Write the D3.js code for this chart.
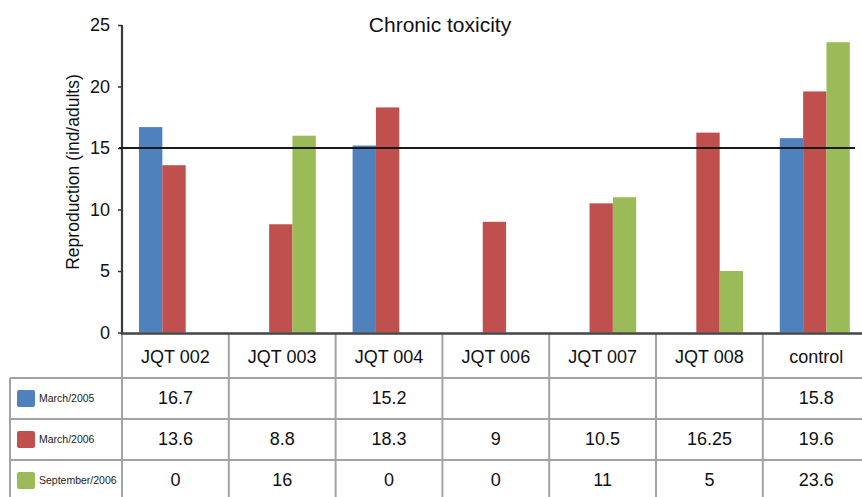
<!DOCTYPE html>
<html>
<head>
<meta charset="utf-8">
<script src="https://cdn.jsdelivr.net/npm/d3@7"></script>
<style>
  html, body { margin: 0; padding: 0; background: #fff; }
  svg { display: block; font-family: "Liberation Sans", Arial, Helvetica, sans-serif; }
</style>
</head>
<body>
<svg id="chart" width="862" height="497"></svg>
<script>
// ---- data ----
const categories = ["JQT 002", "JQT 003", "JQT 004", "JQT 006", "JQT 007", "JQT 008", "control"];
const seriesNames = ["March/2005", "March/2006", "September/2006"];
const march2005 = [16.7, null, 15.2, null, null, null, 15.8];
const march2006 = [13.6, 8.8, 18.3, 9, 10.5, 16.25, 19.6];
const september2006 = [0, 16, 0, 0, 11, 5, 23.6];
const seriesColors = ["#4F81BD", "#C0504D", "#9BBB59"];
const yTicks = [0, 5, 10, 15, 20, 25];
const thresholdValue = 15;
const chartTitle = "Chronic toxicity";
const yLabel = "Reproduction (ind/adults)";

const seriesValues = [march2005, march2006, september2006];

const svg = d3.select("#chart");

const x0 = 122, step = 106.8;
const x = d3.scaleBand().domain(categories).range([x0, x0 + step * categories.length]).padding(0);
const xs = d3.scaleBand().domain(seriesNames).range([17, 17 + 70]).padding(0);
const y = d3.scaleLinear().domain([0, 25]).range([332.5, 25]);

// title
svg.append("text").attr("x", 440).attr("y", 32).attr("text-anchor", "middle")
  .attr("font-size", 21).attr("fill", "#111").text(chartTitle);

// y label
svg.append("text").attr("transform", "translate(79,172) rotate(-90)")
  .attr("text-anchor", "middle").attr("font-size", 17.5).attr("fill", "#111").text(yLabel);

// bars
seriesNames.forEach((s, si) => {
  svg.append("g").selectAll("rect")
    .data(categories.map((c, i) => ({ c, v: seriesValues[si][i] })).filter(d => d.v != null && d.v > 0))
    .join("rect")
    .attr("x", d => x(d.c) + xs(s))
    .attr("width", xs.bandwidth())
    .attr("y", d => y(d.v))
    .attr("height", d => y(0) - y(d.v))
    .attr("fill", seriesColors[si]);
});

// y axis
const yAxis = d3.axisLeft(y).tickValues(yTicks).tickSize(4).tickPadding(8).tickFormat(d3.format("d"));
const gy = svg.append("g").attr("transform", `translate(${x0},0)`).call(yAxis);
gy.select(".domain").remove();
gy.selectAll(".tick line").attr("stroke", "#333").attr("stroke-width", 1.5);
gy.selectAll(".tick text").attr("font-size", 18).attr("fill", "#111")
  .attr("font-family", "Liberation Sans, Arial, sans-serif");
svg.append("line").attr("x1", x0).attr("x2", x0).attr("y1", y(25)).attr("y2", y(0) + 1)
  .attr("stroke", "#3a3a3a").attr("stroke-width", 2.2);

// threshold line
svg.append("line").attr("x1", x0 - 3).attr("x2", 855).attr("y1", y(thresholdValue)).attr("y2", y(thresholdValue))
  .attr("stroke", "#1a1a1a").attr("stroke-width", 2);

// ---- table ----
const rowTop = 333, rowH = 41;
const rowY = [378, 419, 460];
const grid = svg.append("g").attr("stroke", "#a3a3a3").attr("stroke-width", 2);
categories.forEach(c => {
  grid.append("line").attr("x1", x(c)).attr("x2", x(c)).attr("y1", rowTop).attr("y2", 497);
});
grid.append("line").attr("x1", x.range()[1]).attr("x2", x.range()[1]).attr("y1", rowTop).attr("y2", 497);
grid.append("line").attr("x1", 10).attr("x2", 10).attr("y1", rowY[0]).attr("y2", 497);
rowY.forEach(ry => {
  grid.append("line").attr("x1", 10).attr("x2", 862).attr("y1", ry).attr("y2", ry);
});

// x axis baseline
svg.append("line").attr("x1", x0 - 1).attr("x2", 862).attr("y1", y(0) + 1).attr("y2", y(0) + 1)
  .attr("stroke", "#444").attr("stroke-width", 2.5);

// header labels
svg.append("g").selectAll("text").data(categories).join("text")
  .attr("x", d => x(d) + x.bandwidth() / 2)
  .attr("y", (rowTop + rowY[0]) / 2 + 1)
  .attr("dy", "0.35em").attr("text-anchor", "middle").attr("font-size", 18).attr("fill", "#111")
  .text(d => d);

// rows
seriesNames.forEach((s, si) => {
  const cy = rowY[si] + rowH / 2;
  svg.append("rect").attr("x", 17).attr("y", cy - 8.5).attr("width", 18).attr("height", 17)
    .attr("rx", 2).attr("fill", seriesColors[si]);
  svg.append("text").attr("x", 39).attr("y", cy).attr("dy", "0.35em")
    .attr("font-size", 10.5).attr("fill", "#222").text(s);
  svg.append("g").selectAll("text")
    .data(categories.map((c, i) => ({ c, v: seriesValues[si][i] })).filter(d => d.v != null))
    .join("text")
    .attr("x", d => x(d.c) + x.bandwidth() / 2)
    .attr("y", cy - 1).attr("dy", "0.35em").attr("text-anchor", "middle")
    .attr("font-size", 18).attr("fill", "#111")
    .text(d => d.v);
});
</script>
</body>
</html>
